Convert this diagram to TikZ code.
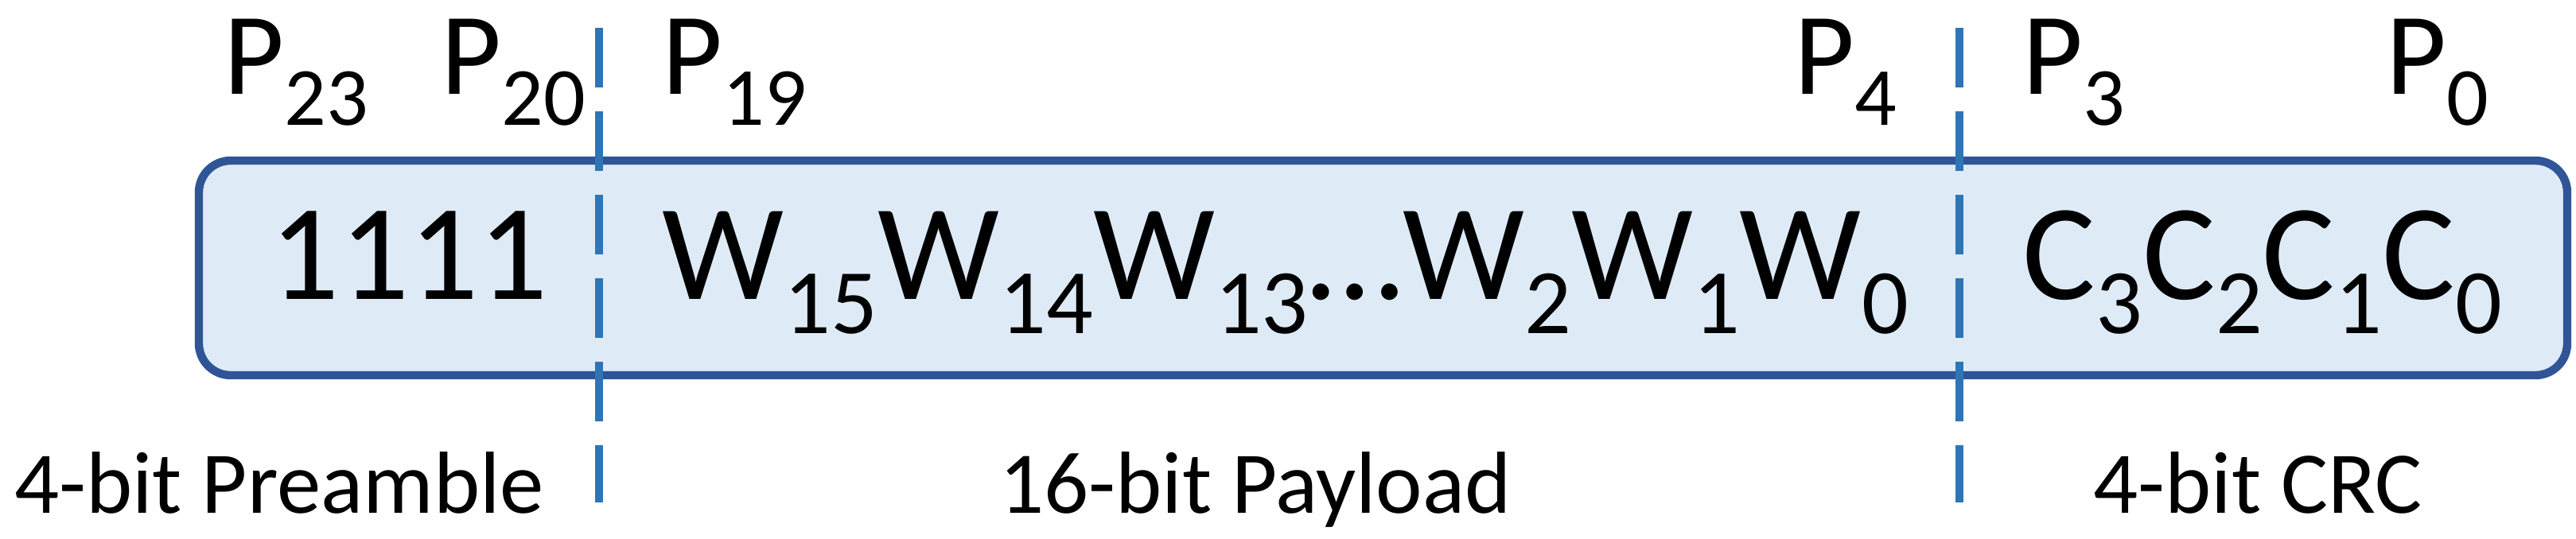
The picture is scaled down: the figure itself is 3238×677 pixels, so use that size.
\documentclass[tikz,border=0pt]{standalone}
\usepackage{fontspec}
\setmainfont{Carlito}
\newcommand{\Ptop}[1]{P\raisebox{-9.7pt}{\fontsize{26}{26}\selectfont #1}}
\newcommand{\Bs}[1]{\raisebox{-10.8pt}{\fontsize{29}{29}\selectfont #1}}
\definecolor{boxfill}{HTML}{DEEBF7}
\definecolor{boxdraw}{HTML}{2F5597}
\definecolor{dashc}{HTML}{2E75B6}
\tikzset{
  toplbl/.style={anchor=base west,inner sep=0,font=\fontsize{36.8}{40}\selectfont},
  boxtxt/.style={anchor=base west,inner sep=0,font=\fontsize{43}{46}\selectfont},
  botlbl/.style={anchor=base,inner sep=0,font=\fontsize{27.7}{30}\selectfont},
  sep/.style={draw=dashc,line width=2.6pt,dash pattern=on 18.75pt off 7.5pt}
}
\begin{document}
\begin{tikzpicture}[x=0.25pt,y=0.25pt]
\useasboundingbox (0,0) rectangle (3238,677);
\node[draw=boxdraw,fill=boxfill,line width=2.6pt,rounded corners=10pt,minimum width=2977*0.25pt,minimum height=270*0.25pt,inner sep=0] (frame) at (1738.5,340) {};
\coordinate (s1t) at (753,642); \coordinate (s1b) at (753,45);
\coordinate (s2t) at (2463,642); \coordinate (s2b) at (2463,45);
\draw[sep] (s1t) -- (s1b);
\draw[sep] (s2t) -- (s2b);
\node[toplbl] (p23) at (281,558) {\Ptop{23}};
\node[toplbl] (p20) at (554,558) {\Ptop{20}};
\node[toplbl] (p19) at (832,558) {\Ptop{19}};
\node[toplbl] (p4) at (2255,558) {\Ptop{4}};
\node[toplbl] (p3) at (2542,558) {\Ptop{3}};
\node[toplbl] (p0) at (2999,558) {\Ptop{0}};
\node[boxtxt] (pre) at (339,301) {1111};
\node[boxtxt] (pay) at (832,301) {W\Bs{15}W\Bs{14}W\Bs{13}\dots W\Bs{2}W\Bs{1}W\Bs{0}};
\node[boxtxt] (crc) at (2542,301) {C\Bs{3}C\Bs{2}C\Bs{1}C\Bs{0}};
\node[botlbl] (lpre) at (351,32) {4-bit Preamble};
\node[botlbl] (lpay) at (1578,32) {16-bit Payload};
\node[botlbl] (lcrc) at (2838,32) {4-bit CRC};
\end{tikzpicture}
\end{document}
